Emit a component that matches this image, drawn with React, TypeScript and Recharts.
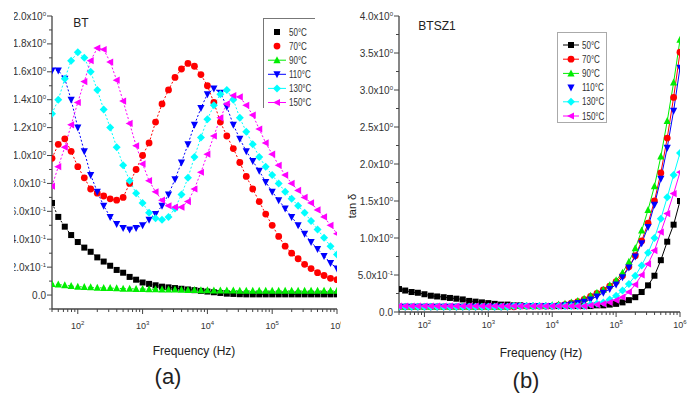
import { LineChart, Line, XAxis, YAxis, Legend } from "recharts";

// frequency grid (Hz), 10 points per decade
const FREQ = [
  40, 50, 63, 79, 100, 126, 158, 200, 251, 316, 398, 501, 631, 794, 1000,
  1259, 1585, 1995, 2512, 3162, 3981, 5012, 6310, 7943, 10000, 12589, 15849,
  19953, 25119, 31623, 39811, 50119, 63096, 79433, 100000, 125893, 158489,
  199526, 251189, 316228, 398107, 501187, 630957, 794328, 1000000,
];

// panel (a) BT
const BT_50 = [
  0.66, 0.56, 0.49, 0.43, 0.38, 0.34, 0.31, 0.27, 0.24, 0.21, 0.18, 0.16, 0.13,
  0.11, 0.09, 0.08, 0.07, 0.06, 0.055, 0.05, 0.045, 0.04, 0.035, 0.03, 0.025,
  0.02, 0.015, 0.01, 0.008, 0.006, 0.005, 0.005, 0.005, 0.005, 0.005, 0.005,
  0.005, 0.005, 0.005, 0.005, 0.005, 0.005, 0.005, 0.005, 0.005,
];
const BT_70 = [
  0.98, 1.08, 1.12, 1.03, 0.92, 0.84, 0.76, 0.73, 0.71, 0.69, 0.68, 0.7, 0.8,
  0.9, 1.0, 1.09, 1.24, 1.37, 1.47, 1.56, 1.62, 1.66, 1.64, 1.58, 1.5, 1.38,
  1.24, 1.14, 1.05, 0.95, 0.85, 0.76, 0.67, 0.58, 0.5, 0.42, 0.35, 0.3, 0.26,
  0.22, 0.19, 0.16, 0.14, 0.12, 0.11,
];
const BT_90 = [
  0.08, 0.075, 0.07, 0.065, 0.06, 0.058, 0.055, 0.053, 0.05, 0.05, 0.048, 0.046,
  0.045, 0.044, 0.043, 0.042, 0.041, 0.04, 0.04, 0.039, 0.038, 0.037, 0.036,
  0.035, 0.034, 0.033, 0.033, 0.032, 0.032, 0.031, 0.031, 0.03, 0.03, 0.03,
  0.03, 0.03, 0.03, 0.03, 0.03, 0.03, 0.03, 0.03, 0.03, 0.03, 0.03,
];
const BT_110 = [
  1.61, 1.61, 1.55, 1.4, 1.2, 1.03, 0.86, 0.74, 0.64, 0.56, 0.51, 0.48, 0.47,
  0.48, 0.5, 0.54, 0.58, 0.64, 0.72, 0.83, 0.95, 1.08, 1.22, 1.34, 1.44, 1.48,
  1.45, 1.35, 1.22, 1.12, 1.03, 0.96, 0.89, 0.81, 0.74, 0.68, 0.62, 0.56, 0.5,
  0.44, 0.38, 0.33, 0.28, 0.23, 0.19,
];
const BT_130 = [
  1.3, 1.4, 1.55, 1.68, 1.74, 1.7, 1.6, 1.47, 1.33, 1.2, 1.06, 0.93, 0.82, 0.73,
  0.66, 0.59, 0.55, 0.54, 0.56, 0.62, 0.72, 0.84, 0.99, 1.13, 1.26, 1.36, 1.44,
  1.47, 1.4, 1.27, 1.17, 1.08, 0.99, 0.92, 0.86, 0.8, 0.74, 0.69, 0.64, 0.59,
  0.53, 0.47, 0.41, 0.35, 0.29,
];
const BT_150 = [
  0.78, 0.92, 1.06, 1.22, 1.38, 1.53, 1.68, 1.77, 1.76, 1.67, 1.54, 1.39, 1.23,
  1.07, 0.94, 0.82, 0.74, 0.68, 0.64, 0.63, 0.63, 0.67, 0.76, 0.88, 1.01, 1.14,
  1.27, 1.37, 1.43, 1.42, 1.36, 1.29, 1.19, 1.09, 1.01, 0.93, 0.86, 0.8, 0.75,
  0.7, 0.66, 0.61, 0.56, 0.5, 0.44,
];

// panel (b) BTSZ1, tan delta
const BTSZ_50 = [
  0.31, 0.29, 0.27, 0.26, 0.24, 0.22, 0.21, 0.2, 0.19, 0.18, 0.17, 0.15, 0.14,
  0.13, 0.12, 0.11, 0.1, 0.1, 0.09, 0.09, 0.08, 0.08, 0.08, 0.08, 0.08, 0.08,
  0.08, 0.08, 0.08, 0.08, 0.08, 0.09, 0.09, 0.1, 0.11, 0.13, 0.16, 0.2, 0.27,
  0.36, 0.49, 0.7, 0.95, 1.18, 1.5,
];
const BTSZ_70 = [
  0.07, 0.07, 0.07, 0.07, 0.07, 0.07, 0.07, 0.07, 0.07, 0.07, 0.07, 0.07, 0.07,
  0.07, 0.07, 0.07, 0.07, 0.07, 0.07, 0.08, 0.08, 0.08, 0.08, 0.08, 0.08, 0.09,
  0.1, 0.12, 0.14, 0.17, 0.21, 0.25, 0.3, 0.35, 0.41, 0.49, 0.61, 0.76, 0.96,
  1.2, 1.5, 1.88, 2.35, 2.9, 3.51,
];
const BTSZ_90 = [
  0.07, 0.07, 0.07, 0.07, 0.07, 0.07, 0.07, 0.07, 0.07, 0.07, 0.07, 0.07, 0.07,
  0.07, 0.07, 0.07, 0.07, 0.07, 0.08, 0.08, 0.08, 0.08, 0.08, 0.08, 0.09, 0.1,
  0.11, 0.13, 0.15, 0.18, 0.22, 0.26, 0.3, 0.36, 0.43, 0.53, 0.68, 0.86, 1.1,
  1.38, 1.7, 2.1, 2.58, 3.1, 3.68,
];
const BTSZ_110 = [
  0.07, 0.07, 0.07, 0.07, 0.07, 0.07, 0.07, 0.07, 0.07, 0.07, 0.07, 0.07, 0.07,
  0.07, 0.07, 0.07, 0.07, 0.07, 0.08, 0.08, 0.08, 0.08, 0.08, 0.08, 0.08, 0.08,
  0.09, 0.1, 0.12, 0.14, 0.17, 0.21, 0.26, 0.31, 0.37, 0.47, 0.6, 0.75, 0.93,
  1.15, 1.45, 1.8, 2.22, 2.72, 3.3,
];
const BTSZ_130 = [
  0.07, 0.07, 0.07, 0.07, 0.07, 0.07, 0.07, 0.07, 0.07, 0.07, 0.07, 0.07, 0.07,
  0.07, 0.07, 0.07, 0.07, 0.07, 0.08, 0.08, 0.08, 0.08, 0.08, 0.08, 0.08, 0.08,
  0.08, 0.08, 0.08, 0.08, 0.1, 0.11, 0.13, 0.17, 0.22, 0.29, 0.38, 0.49, 0.63,
  0.8, 1.0, 1.26, 1.55, 1.85, 2.15,
];
const BTSZ_150 = [
  0.08, 0.08, 0.08, 0.08, 0.08, 0.08, 0.08, 0.08, 0.08, 0.08, 0.08, 0.08, 0.08,
  0.08, 0.08, 0.08, 0.08, 0.08, 0.08, 0.08, 0.08, 0.08, 0.08, 0.08, 0.08, 0.08,
  0.08, 0.08, 0.08, 0.08, 0.09, 0.1, 0.11, 0.13, 0.16, 0.2, 0.27, 0.37, 0.5,
  0.65, 0.83, 1.08, 1.33, 1.6, 1.89,
];

const SERIES = [
  { key: "t50", name: "50°C", color: "#000000", shape: "square" },
  { key: "t70", name: "70°C", color: "#ff0000", shape: "circle" },
  { key: "t90", name: "90°C", color: "#00ee00", shape: "up" },
  { key: "t110", name: "110°C", color: "#0000ff", shape: "down" },
  { key: "t130", name: "130°C", color: "#00ffff", shape: "diamond" },
  { key: "t150", name: "150°C", color: "#ff00ff", shape: "left" },
];

const X_MAJOR = [100, 1000, 10000, 100000, 1000000];
const X_MINOR = [
  40, 50, 60, 70, 80, 90, 200, 300, 400, 500, 600, 700, 800, 900, 2000, 3000,
  4000, 5000, 6000, 7000, 8000, 9000, 20000, 30000, 40000, 50000, 60000, 70000,
  80000, 90000, 200000, 300000, 400000, 500000, 600000, 700000, 800000, 900000,
];
const BT_Y_MAJOR = [0, 0.2, 0.4, 0.6, 0.8, 1.0, 1.2, 1.4, 1.6, 1.8, 2.0];
const BT_Y_MINOR = [-0.1, 0.1, 0.3, 0.5, 0.7, 0.9, 1.1, 1.3, 1.5, 1.7, 1.9];
const TAN_Y_MAJOR = [0, 0.5, 1.0, 1.5, 2.0, 2.5, 3.0, 3.5, 4.0];
const TAN_Y_MINOR = [0.25, 0.75, 1.25, 1.75, 2.25, 2.75, 3.25, 3.75];

const FONT = '"Liberation Sans", Arial, sans-serif';
const AXIS = "#444";

const btData = FREQ.map((f, i) => ({
  f,
  t50: BT_50[i],
  t70: BT_70[i],
  t90: BT_90[i],
  t110: BT_110[i],
  t130: BT_130[i],
  t150: BT_150[i],
}));

const btszData = FREQ.map((f, i) => ({
  f,
  t50: BTSZ_50[i],
  t70: BTSZ_70[i],
  t90: BTSZ_90[i],
  t110: BTSZ_110[i],
  t130: BTSZ_130[i],
  t150: BTSZ_150[i],
}));

function Marker({ cx, cy, shape, color, s = 3 }: any) {
  if (cx == null || cy == null) return null;
  switch (shape) {
    case "square":
      return <rect x={cx - s} y={cy - s} width={2 * s} height={2 * s} fill={color} />;
    case "circle":
      return <circle cx={cx} cy={cy} r={s + 0.4} fill={color} />;
    case "up":
      return (
        <polygon
          points={`${cx},${cy - s - 1} ${cx + s + 0.6},${cy + s} ${cx - s - 0.6},${cy + s}`}
          fill={color}
        />
      );
    case "down":
      return (
        <polygon
          points={`${cx},${cy + s + 1} ${cx + s + 0.6},${cy - s} ${cx - s - 0.6},${cy - s}`}
          fill={color}
        />
      );
    case "diamond":
      return (
        <polygon
          points={`${cx},${cy - s - 1} ${cx + s + 1},${cy} ${cx},${cy + s + 1} ${cx - s - 1},${cy}`}
          fill={color}
        />
      );
    default:
      return (
        <polygon
          points={`${cx - s - 1},${cy} ${cx + s},${cy - s - 0.6} ${cx + s},${cy + s + 0.6}`}
          fill={color}
        />
      );
  }
}

function XTick({ x, y, payload, labelDy }: any) {
  const v = payload.value;
  const major = X_MAJOR.includes(v);
  const exp = Math.round(Math.log10(v));
  return (
    <g>
      <line x1={x} x2={x} y1={y} y2={y + (major ? 5 : 3)} stroke={AXIS} />
      {major && (
        <text x={x} y={y + labelDy} textAnchor="middle" fontSize={9} fill="#333" fontFamily={FONT}>
          10
          <tspan dy={-4} fontSize={6}>
            {exp}
          </tspan>
        </text>
      )}
    </g>
  );
}

function YTick({ x, y, payload, majors }: any) {
  const v = payload.value;
  const major = majors.includes(v);
  let label: any = null;
  if (major) {
    if (v === 0) {
      label = "0.0";
    } else {
      const mant = v >= 1 ? v.toFixed(1) : (v * 10).toFixed(1);
      const exp = v >= 1 ? "0" : "-1";
      label = (
        <>
          {mant}x10
          <tspan dy={-4} fontSize={6}>
            {exp}
          </tspan>
        </>
      );
    }
  }
  return (
    <g>
      <line x1={x} x2={x - (major ? 5 : 3)} y1={y} y2={y} stroke={AXIS} />
      {major && (
        <text x={x - 6} y={y + 3.5} textAnchor="end" fontSize={10} fill="#333" fontFamily={FONT}>
          {label}
        </text>
      )}
    </g>
  );
}

function LegendBox({ w, h, rowY, gap, symX, lineX1, lineX2, textX, lines, full }: any) {
  return (
    <svg width={w} height={h} style={{ display: "block" }}>
      {full ? (
        <rect x={0.5} y={0.5} width={w - 1} height={h - 1} fill="#fff" stroke="#aaa" />
      ) : (
        <>
          <rect x={0} y={0} width={w} height={h} fill="#fff" />
          <line x1={0.5} x2={0.5} y1={0} y2={h} stroke="#777" />
          <line x1={0} x2={w} y1={0.5} y2={0.5} stroke="#777" />
        </>
      )}
      {SERIES.map((s, i) => {
        const cy = rowY + gap * i;
        return (
          <g key={s.key}>
            {lines[i] && <line x1={lineX1} x2={lineX2} y1={cy} y2={cy} stroke={s.color} strokeWidth={1} />}
            <Marker cx={symX} cy={cy} shape={s.shape} color={s.color} s={3} />
            {/* condensed text, as in the source figure */}
            <text
              transform={`translate(${textX},${cy + 3.5}) scale(0.8,1)`}
              fontSize={10}
              fill="#333"
              fontFamily={FONT}
            >
              {s.name}
            </text>
          </g>
        );
      })}
    </svg>
  );
}

function Txt({ x, y, size, children, rotate }: any) {
  return (
    <div
      style={{
        position: "absolute",
        left: x,
        top: y,
        transform: `translate(-50%, -50%)${rotate ? " rotate(-90deg)" : ""}`,
        fontFamily: FONT,
        fontSize: size,
        color: "#222",
        whiteSpace: "nowrap",
        lineHeight: 1,
      }}
    >
      {children}
    </div>
  );
}

function Panel({ data, width, height, margin, yWidth, yDomain, yMajor, yMinor, labelDy, dashed, legend }: any) {
  return (
    <LineChart width={width} height={height} data={data} margin={margin}>
      <XAxis
        dataKey="f"
        type="number"
        scale="log"
        domain={[40, 1000000]}
        allowDataOverflow
        ticks={[...X_MAJOR, ...X_MINOR]}
        interval={0}
        tickSize={0}
        tickMargin={0}
        tickLine={false}
        height={25}
        stroke={AXIS}
        strokeWidth={1.3}
        tick={(p: any) => <XTick {...p} labelDy={labelDy} />}
      />
      <YAxis
        type="number"
        domain={yDomain}
        allowDataOverflow
        ticks={[...yMajor, ...yMinor]}
        interval={0}
        tickSize={0}
        tickMargin={0}
        tickLine={false}
        width={yWidth}
        stroke={AXIS}
        strokeWidth={1.3}
        tick={(p: any) => <YTick {...p} majors={yMajor} />}
      />
      {legend}
      {SERIES.map((s) => (
        <Line
          key={s.key}
          dataKey={s.key}
          name={s.name}
          type="linear"
          stroke={s.color}
          strokeWidth={1}
          strokeDasharray={dashed ? "2 2" : undefined}
          isAnimationActive={false}
          dot={(p: any) => (
            <Marker key={`${s.key}-${p.index}`} cx={p.cx} cy={p.cy} shape={s.shape} color={s.color} s={3} />
          )}
          activeDot={false}
        />
      ))}
    </LineChart>
  );
}

export default function App() {
  return (
    <div
      style={{
        position: "absolute",
        left: 0,
        top: 0,
        width: 695,
        height: 394,
        background: "#fff",
        overflow: "hidden",
        fontFamily: FONT,
      }}
    >
      <div style={{ position: "absolute", left: 14, top: 0 }}>
        <Panel
          data={btData}
          width={327}
          height={340}
          margin={{ top: 16, right: 4, bottom: 6, left: 0 }}
          yWidth={38}
          yDomain={[-0.1, 2.0]}
          yMajor={BT_Y_MAJOR}
          yMinor={BT_Y_MINOR}
          labelDy={20}
          dashed
          legend={
            <Legend
              layout="vertical"
              align="center"
              verticalAlign="middle"
              wrapperStyle={{ left: 249, top: 18, width: 52, height: 90 }}
              content={() => (
                <LegendBox
                  w={52}
                  h={90}
                  rowY={14}
                  gap={14.1}
                  symX={14}
                  lineX1={5}
                  lineX2={23}
                  textX={26}
                  lines={[false, false, true, true, true, true]}
                />
              )}
            />
          }
        />
      </div>
      <div style={{ position: "absolute", left: 350, top: 0 }}>
        <Panel
          data={btszData}
          width={345}
          height={340}
          margin={{ top: 16, right: 15, bottom: 3, left: 0 }}
          yWidth={49}
          yDomain={[0, 4.0]}
          yMajor={TAN_Y_MAJOR}
          yMinor={TAN_Y_MINOR}
          labelDy={16}
          dashed={false}
          legend={
            <Legend
              layout="vertical"
              align="center"
              verticalAlign="middle"
              wrapperStyle={{ left: 207, top: 32, width: 50, height: 91 }}
              content={() => (
                <LegendBox
                  w={50}
                  h={91}
                  rowY={13}
                  gap={14.2}
                  symX={14}
                  lineX1={6}
                  lineX2={22}
                  textX={25}
                  lines={[true, true, true, false, true, true]}
                  full
                />
              )}
            />
          }
        />
      </div>
      <Txt x={81} y={23} size={12}>BT</Txt>
      <Txt x={437} y={26} size={12}>BTSZ1</Txt>
      <Txt x={352} y={206} size={11} rotate>tan δ</Txt>
      <Txt x={194} y={351} size={12}>Frequency (Hz)</Txt>
      <Txt x={541} y={353} size={12}>Frequency (Hz)</Txt>
      <Txt x={168} y={377} size={22}>(a)</Txt>
      <Txt x={526} y={381} size={22}>(b)</Txt>
    </div>
  );
}
